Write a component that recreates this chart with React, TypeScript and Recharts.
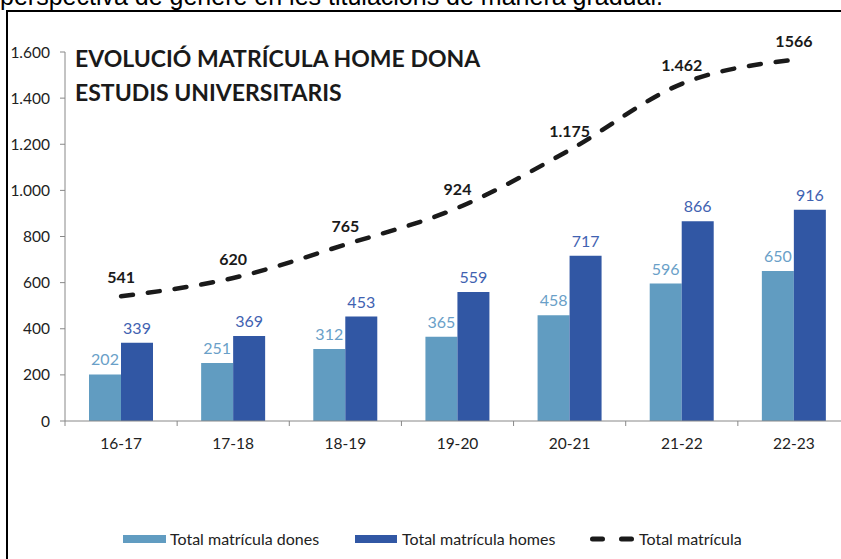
import React from "react";
import {
  ComposedChart,
  Bar,
  Line,
  XAxis,
  YAxis,
  LabelList,
} from "recharts";

const cursos = ["16-17", "17-18", "18-19", "19-20", "20-21", "21-22", "22-23"];
const dones = [202, 251, 312, 365, 458, 596, 650];
const homes = [339, 369, 453, 559, 717, 866, 916];
const total = [541, 620, 765, 924, 1175, 1462, 1566];
const totalEtiquetes = ["541", "620", "765", "924", "1.175", "1.462", "1566"];
const yTicks = [0, 200, 400, 600, 800, 1000, 1200, 1400, 1600];

const COLOR_DONES = "#619cc1";
const COLOR_HOMES = "#3157a4";
const LABEL_DONES = "#6a9fc8";
const LABEL_HOMES = "#3f62b1";
const FONT = "Lato, 'Open Sans', sans-serif";

const data = cursos.map((c, i) => ({
  curs: c,
  dones: dones[i],
  homes: homes[i],
  total: total[i],
  etiqueta: totalEtiquetes[i],
}));

const fmt = (n: number) => String(n).replace(/\B(?=(\d{3})+(?!\d))/g, ".");

const XTick = (props: any) => {
  const { x, y, payload } = props;
  const half = payload && payload.offset ? payload.offset : 56;
  return (
    <g>
      <line x1={x - half} y1={y} x2={x - half} y2={y + 5} stroke="#888" />
      <text
        x={x}
        y={y + 28}
        textAnchor="middle"
        fontSize={15.5}
        fontFamily={FONT}
        fill="#222"
      >
        {payload.value}
      </text>
    </g>
  );
};

const Llegenda = () => (
  <div
    style={{
      position: "absolute",
      top: 529,
      left: 0,
      width: 841,
      height: 22,
      fontFamily: FONT,
      fontSize: 16,
      color: "#222",
    }}
  >
    <div style={{ position: "absolute", left: 123, top: 6, width: 43, height: 8, background: COLOR_DONES }} />
    <div style={{ position: "absolute", left: 170, top: 0, lineHeight: "20px" }}>Total matrícula dones</div>
    <div style={{ position: "absolute", left: 355, top: 6, width: 42, height: 8, background: COLOR_HOMES }} />
    <div style={{ position: "absolute", left: 402, top: 0, lineHeight: "20px" }}>Total matrícula homes</div>
    <svg style={{ position: "absolute", left: 585, top: 4 }} width={54} height={12}>
      <line x1={7.5} y1={6} x2={47} y2={6} stroke="#1a1a1a" strokeWidth={5} strokeLinecap="round" strokeDasharray="10 19" />
    </svg>
    <div style={{ position: "absolute", left: 639, top: 0, lineHeight: "20px" }}>Total matrícula</div>
  </div>
);

export default function App() {
  return (
    <div
      style={{
        position: "fixed",
        left: 0,
        top: 0,
        width: 841,
        height: 559,
        overflow: "hidden",
        background: "#fff",
      }}
    >
      <div
        style={{
          position: "absolute",
          left: 0,
          top: -19,
          fontFamily: "'Liberation Sans', Arial, sans-serif",
          fontSize: 25,
          lineHeight: "30px",
          whiteSpace: "nowrap",
          color: "#000",
        }}
      >
        perspectiva de gènere en les titulacions de manera gradual.
      </div>
      <div
        style={{
          position: "absolute",
          left: 6,
          top: 10,
          width: 900,
          height: 600,
          border: "2px solid #000",
        }}
      />
      <div
        style={{
          position: "absolute",
          left: 75,
          top: 41,
          fontFamily: FONT,
          fontWeight: 700,
          fontSize: 23,
          lineHeight: "34px",
          color: "#1a1a1a",
          whiteSpace: "nowrap",
        }}
      >
        EVOLUCIÓ MATRÍCULA HOME DONA
        <br />
        ESTUDIS UNIVERSITARIS
      </div>
      <div style={{ position: "absolute", left: 0, top: 0 }}>
        <ComposedChart
          width={860}
          height={470}
          data={data}
          margin={{ top: 52, right: 10, bottom: 19, left: 0 }}
          barGap={0}
        >
          <XAxis
            dataKey="curs"
            height={30}
            stroke="#888"
            tickLine={false}
            tickSize={0}
            tickMargin={0}
            tick={<XTick />}
            interval={0}
          />
          <YAxis
            width={65}
            domain={[0, 1600]}
            ticks={yTicks}
            stroke="#888"
            tickSize={5}
            tickMargin={10}
            tickFormatter={fmt}
            tick={{ fontSize: 15.5, fontFamily: FONT, fill: "#222" }}
            interval={0}
          />
          <Bar dataKey="dones" fill={COLOR_DONES} barSize={32} isAnimationActive={false}>
            <LabelList
              dataKey="dones"
              position="top"
              offset={9}
              fill={LABEL_DONES}
              fontSize={16}
              fontFamily={FONT}
            />
          </Bar>
          <Bar dataKey="homes" fill={COLOR_HOMES} barSize={32} isAnimationActive={false}>
            <LabelList
              dataKey="homes"
              position="top"
              offset={9}
              fill={LABEL_HOMES}
              fontSize={16}
              fontFamily={FONT}
            />
          </Bar>
          <Line
            dataKey="total"
            type="monotone"
            stroke="#1a1a1a"
            strokeWidth={4.5}
            strokeLinecap="round"
            strokeDasharray="12 15"
            dot={false}
            activeDot={false}
            isAnimationActive={false}
          >
            <LabelList
              dataKey="etiqueta"
              position="top"
              offset={13}
              fill="#1a1a1a"
              fontSize={16}
              fontWeight={700}
              fontFamily={FONT}
            />
          </Line>
        </ComposedChart>
      </div>
      <Llegenda />
    </div>
  );
}
